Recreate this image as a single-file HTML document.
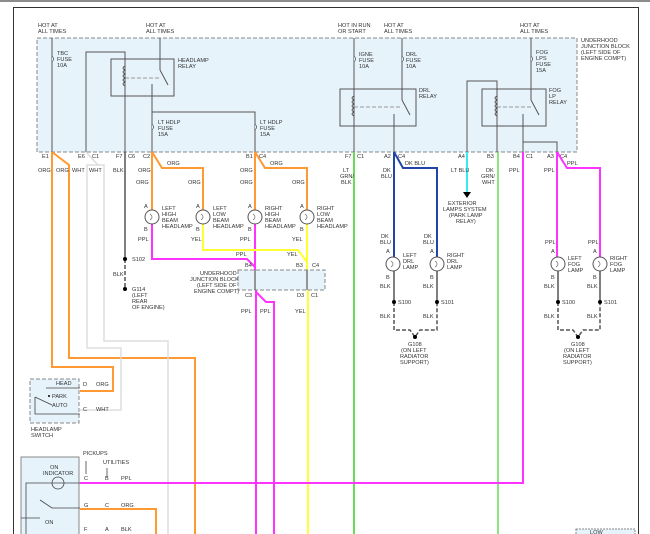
<!DOCTYPE html>
<html><head><meta charset="utf-8"><style>
html,body{margin:0;padding:0;background:#fff;}
svg{display:block;font-family:"Liberation Sans",sans-serif;}
text{font-size:5.6px;fill:#333;}
</style></head><body>
<svg width="650" height="534" viewBox="0 0 650 534" xmlns="http://www.w3.org/2000/svg">
<rect x="0" y="0" width="650" height="534" fill="#fff"/>
<line x1="0" y1="1" x2="650" y2="1" stroke="#666" stroke-width="1.5"/>
<path d="M13.5 534 V7.5 H638.5 V534" fill="none" stroke="#333" stroke-width="1"/>
<rect x="37" y="38" width="540" height="114" fill="#e6f3fb" stroke="#888" stroke-dasharray="4,2" stroke-width="1"/>
<g stroke="#555" fill="none" stroke-width="1">
<line x1="52" y1="38" x2="52" y2="152"/>
<path d="M86 152 V52 H125 V152"/>
<rect x="111" y="59" width="63" height="37" fill="none"/>
<line x1="160" y1="38" x2="160" y2="70"/>
<line x1="160" y1="70" x2="168" y2="85"/>
<line x1="152" y1="84" x2="152" y2="152"/>
<path d="M152 112 H255 V152"/>
<line x1="125" y1="78" x2="160" y2="78" stroke-dasharray="4,2" stroke="#999"/>
<line x1="354" y1="38" x2="354" y2="152"/>
<rect x="340" y="89" width="76" height="37"/>
<line x1="402" y1="38" x2="402" y2="100"/>
<line x1="402" y1="100" x2="410" y2="115"/>
<line x1="394" y1="114" x2="394" y2="152"/>
<line x1="354" y1="107" x2="402" y2="107" stroke-dasharray="4,2" stroke="#999"/>
<path d="M467 152 V81 H497 V152"/>
<rect x="482" y="89" width="64" height="37"/>
<line x1="531" y1="38" x2="531" y2="100"/>
<line x1="531" y1="100" x2="539" y2="115"/>
<path d="M523 114 V152 M523 142 H557 V152"/>
<line x1="497" y1="107" x2="531" y2="107" stroke-dasharray="4,2" stroke="#999"/>
</g>
<g stroke="#444" fill="none" stroke-width="0.8">
<path d="M125 66 q-4 2 0 4 q-4 2 0 4 q-4 2 0 4 q-4 2 0 4 q-4 2 0 4"/>
<path d="M354 96 q-4 2 0 4 q-4 2 0 4 q-4 2 0 4 q-4 2 0 4 q-4 2 0 4"/>
<path d="M497 96 q-4 2 0 4 q-4 2 0 4 q-4 2 0 4 q-4 2 0 4 q-4 2 0 4"/>
</g>
<g fill="#e6f3fb" stroke="#555" stroke-width="0.8">
<path d="M52 56 q3 3 0 6"/><path d="M152 124 q3 3 0 6"/><path d="M255 124 q3 3 0 6"/>
<path d="M354 56 q3 3 0 6"/><path d="M402 56 q3 3 0 6"/><path d="M531 56 q3 3 0 6"/>
</g>
<text x="38" y="27">HOT AT</text><text x="38" y="33">ALL TIMES</text>
<text x="146" y="27">HOT AT</text><text x="146" y="33">ALL TIMES</text>
<text x="338" y="27">HOT IN RUN</text><text x="338" y="33">OR START</text>
<text x="384" y="27">HOT AT</text><text x="384" y="33">ALL TIMES</text>
<text x="520" y="27">HOT AT</text><text x="520" y="33">ALL TIMES</text>
<text x="57" y="55">TBC</text><text x="57" y="61">FUSE</text><text x="57" y="67">10A</text>
<text x="178" y="62">HEADLAMP</text><text x="178" y="68">RELAY</text>
<text x="158" y="124">LT HDLP</text><text x="158" y="130">FUSE</text><text x="158" y="136">15A</text>
<text x="260" y="124">LT HDLP</text><text x="260" y="130">FUSE</text><text x="260" y="136">15A</text>
<text x="359" y="56">IGNE</text><text x="359" y="62">FUSE</text><text x="359" y="68">10A</text>
<text x="406" y="56">DRL</text><text x="406" y="62">FUSE</text><text x="406" y="68">10A</text>
<text x="419" y="92">DRL</text><text x="419" y="98">RELAY</text>
<text x="536" y="54">FOG</text><text x="536" y="60">LPS</text><text x="536" y="66">FUSE</text><text x="536" y="72">15A</text>
<text x="549" y="92">FOG</text><text x="549" y="98">LP</text><text x="549" y="104">RELAY</text>
<text x="581" y="42">UNDERHOOD</text><text x="581" y="48">JUNCTION BLOCK</text><text x="581" y="54">(LEFT SIDE OF</text><text x="581" y="60">ENGINE COMPT)</text>
<text x="42" y="158">E1</text><text x="78" y="158">E6</text><text x="92" y="158">C1</text>
<text x="116" y="158">F7</text><text x="128" y="158">C6</text><text x="143" y="158">C2</text>
<text x="246" y="158">B1</text><text x="259" y="158">C4</text>
<text x="345" y="158">F7</text><text x="357" y="158">C1</text><text x="384" y="158">A2</text><text x="398" y="158">C4</text>
<text x="458" y="158">A4</text><text x="487" y="158">B3</text><text x="513" y="158">B4</text><text x="526" y="158">C1</text>
<text x="547" y="158">A3</text><text x="560" y="158">C4</text>
<g fill="none" stroke-width="2">
<path d="M52 152 V367 H113 V391 H80" stroke="#ff9933"/>
<path d="M52 152 L69 165 V358 H195 V534" stroke="#ff9933"/>
<path d="M86 152 L98 165 H87 V348 H121 V410 H80" stroke="#ddd" stroke-width="1.5"/>
<path d="M98 165 H104 V341 H168 V534" stroke="#ddd" stroke-width="1.5"/>
<path d="M152 152 V210 M152 152 L162 168 H203 V210 M255 152 V210 M255 152 L265 168 H307 V210" stroke="#ff9933"/>
<path d="M152 224 V259 H247 L255 267 M255 224 V270" stroke="#ff33ff"/>
<path d="M203 224 V250 H298 L307 262 M307 224 V270" stroke="#ffff33"/>
<path d="M256 290 V534 M256 292 L266 302 H274 V534" stroke="#ff33ff"/>
<path d="M308 290 V534" stroke="#ffff33"/>
<path d="M354 152 V534" stroke="#66dd55"/>
<path d="M394 152 V257 M394 152 L403 168 H437 V257" stroke="#2244aa"/>
<path d="M467 152 V192" stroke="#33eeee"/>
<path d="M498 152 V534" stroke="#66dd55" stroke-width="1.5"/>
<path d="M523 152 V483 H80" stroke="#ff33ff"/>
<path d="M557 152 V257 M557 152 L567 168 H600 V257" stroke="#ff33ff"/>
<path d="M80 509 H156 V534" stroke="#ff9933"/>
</g>
<polygon points="463,192 471,192 467,198" fill="#000"/>
<g stroke="#555" stroke-width="1.5" fill="none">
<line x1="125" y1="152" x2="125" y2="259"/>
<line x1="125" y1="259" x2="125" y2="289" stroke-dasharray="4,2"/>
<path d="M394 271 V302 M437 271 V302 M558 271 V302 M600 271 V302"/>
<path d="M394 302 V330 H410 L415 337 L420 330 H437 V302 M558 302 V330 H573 L578 337 L583 330 H600 V302" stroke-dasharray="4,2"/>
</g>
<g fill="#000"><circle cx="125" cy="259" r="2"/><circle cx="125" cy="289" r="2"/>
<circle cx="394" cy="302" r="2"/><circle cx="437" cy="302" r="2"/><circle cx="558" cy="302" r="2"/><circle cx="600" cy="302" r="2"/>
<circle cx="415" cy="337" r="2"/><circle cx="578" cy="337" r="2"/></g>
<g fill="#fff" stroke="#555" stroke-width="1">
<circle cx="152" cy="217" r="7"/><circle cx="203" cy="217" r="7"/><circle cx="255" cy="217" r="7"/><circle cx="307" cy="217" r="7"/>
<circle cx="393" cy="264" r="7"/><circle cx="437" cy="264" r="7"/><circle cx="558" cy="264" r="7"/><circle cx="600" cy="264" r="7"/>
</g>
<g fill="none" stroke="#666" stroke-width="0.7">
<path d="M150 214 q4 3 0 6 M201 214 q4 3 0 6 M253 214 q4 3 0 6 M305 214 q4 3 0 6 M391 261 q4 3 0 6 M435 261 q4 3 0 6 M556 261 q4 3 0 6 M598 261 q4 3 0 6"/>
</g>
<text x="136" y="184">ORG</text><text x="188" y="184">ORG</text><text x="240" y="184">ORG</text><text x="292" y="184">ORG</text>
<text x="144" y="208">A</text><text x="196" y="208">A</text><text x="248" y="208">A</text><text x="300" y="208">A</text>
<text x="144" y="231">B</text><text x="196" y="231">B</text><text x="248" y="231">B</text><text x="300" y="231">B</text>
<text x="162" y="210">LEFT</text><text x="162" y="216">HIGH</text><text x="162" y="222">BEAM</text><text x="162" y="228">HEADLAMP</text>
<text x="213" y="210">LEFT</text><text x="213" y="216">LOW</text><text x="213" y="222">BEAM</text><text x="213" y="228">HEADLAMP</text>
<text x="265" y="210">RIGHT</text><text x="265" y="216">HIGH</text><text x="265" y="222">BEAM</text><text x="265" y="228">HEADLAMP</text>
<text x="317" y="210">RIGHT</text><text x="317" y="216">LOW</text><text x="317" y="222">BEAM</text><text x="317" y="228">HEADLAMP</text>
<text x="138" y="241">PPL</text><text x="191" y="241">YEL</text><text x="240" y="241">PPL</text><text x="292" y="241">YEL</text>
<text x="236" y="256">PPL</text><text x="287" y="256">YEL</text>
<text x="245" y="267">B4</text><text x="296" y="267">B3</text><text x="312" y="267">C4</text>
<rect x="238" y="270" width="87" height="20" fill="#e6f3fb" stroke="#888" stroke-dasharray="4,2"/>
<g stroke="#777" stroke-width="1.5"><line x1="255" y1="270" x2="255" y2="290"/><line x1="307" y1="270" x2="307" y2="290"/></g>
<text x="200" y="275">UNDERHOOD</text><text x="190" y="281">JUNCTION BLOCK</text><text x="197" y="287">(LEFT SIDE OF</text><text x="194" y="293">ENGINE COMPT)</text>
<text x="245" y="297">C3</text><text x="297" y="297">D3</text><text x="311" y="297">C1</text>
<text x="241" y="313">PPL</text><text x="260" y="313">PPL</text><text x="295" y="313">YEL</text>
<text x="132" y="261">S102</text><text x="113" y="276">BLK</text><text x="132" y="291">G114</text><text x="132" y="297">(LEFT</text><text x="132" y="303">REAR</text><text x="132" y="309">OF ENGINE)</text>
<text x="38" y="172">ORG</text><text x="56" y="172">ORG</text><text x="72" y="172">WHT</text><text x="89" y="172">WHT</text>
<text x="113" y="172">BLK</text><text x="138" y="172">ORG</text><text x="167" y="165">ORG</text><text x="240" y="172">ORG</text><text x="270" y="165">ORG</text>
<text x="343" y="172">LT</text><text x="340" y="178">GRN/</text><text x="341" y="184">BLK</text>
<text x="383" y="172">DK</text><text x="381" y="178">BLU</text><text x="405" y="165">DK BLU</text>
<text x="451" y="172">LT BLU</text><text x="486" y="172">DK</text><text x="481" y="178">GRN/</text><text x="482" y="184">WHT</text>
<text x="509" y="172">PPL</text><text x="544" y="172">PPL</text><text x="567" y="165">PPL</text>
<text x="448" y="205">EXTERIOR</text><text x="443" y="211">LAMPS SYSTEM</text><text x="449" y="217">(PARK LAMP</text><text x="456" y="223">RELAY)</text>
<text x="381" y="238">DK</text><text x="380" y="244">BLU</text><text x="424" y="238">DK</text><text x="423" y="244">BLU</text>
<text x="545" y="244">PPL</text><text x="588" y="244">PPL</text>
<text x="386" y="253">A</text><text x="430" y="253">A</text><text x="551" y="253">A</text><text x="593" y="253">A</text>
<text x="386" y="279">B</text><text x="430" y="279">B</text><text x="551" y="279">B</text><text x="593" y="279">B</text>
<text x="403" y="257">LEFT</text><text x="403" y="263">DRL</text><text x="403" y="269">LAMP</text>
<text x="447" y="257">RIGHT</text><text x="447" y="263">DRL</text><text x="447" y="269">LAMP</text>
<text x="568" y="260">LEFT</text><text x="568" y="266">FOG</text><text x="568" y="272">LAMP</text>
<text x="610" y="260">RIGHT</text><text x="610" y="266">FOG</text><text x="610" y="272">LAMP</text>
<text x="380" y="288">BLK</text><text x="423" y="288">BLK</text><text x="544" y="288">BLK</text><text x="587" y="288">BLK</text>
<text x="398" y="304">S100</text><text x="441" y="304">S101</text><text x="562" y="304">S100</text><text x="604" y="304">S101</text>
<text x="380" y="318">BLK</text><text x="423" y="318">BLK</text><text x="544" y="318">BLK</text><text x="587" y="318">BLK</text>
<text x="408" y="346">G108</text><text x="401" y="352">(ON LEFT</text><text x="400" y="358">RADIATOR</text><text x="400" y="364">SUPPORT)</text>
<text x="571" y="346">G108</text><text x="564" y="352">(ON LEFT</text><text x="563" y="358">RADIATOR</text><text x="563" y="364">SUPPORT)</text>
<!-- headlamp switch -->
<rect x="30" y="379" width="49" height="44" fill="#e6f3fb" stroke="#888" stroke-dasharray="4,2"/>
<g stroke="#444" fill="none" stroke-width="0.8"><path d="M46 388 H80"/><path d="M35 397 L52 405"/><path d="M35 397 V414 H80"/></g>
<circle cx="49" cy="396" r="1" fill="#000"/>
<text x="56" y="385">HEAD</text><text x="52" y="398">PARK</text><text x="52" y="407">AUTO</text>
<text x="83" y="386">D</text><text x="96" y="386">ORG</text><text x="83" y="411">C</text><text x="96" y="411">WHT</text>
<text x="31" y="431">HEADLAMP</text><text x="31" y="437">SWITCH</text>
<!-- bottom switch -->
<rect x="21" y="457" width="58" height="80" fill="#e6f3fb" stroke="#888"/>
<circle cx="58" cy="483" r="6" fill="none" stroke="#444" stroke-width="0.8"/>
<g stroke="#444" fill="none" stroke-width="0.8"><path d="M26 537 V483 H80"/><path d="M40 500 L52 508 H80"/><path d="M21 518 H40"/><path d="M86 461 V474 M107 468 V477"/></g>
<text x="50" y="469">ON</text><text x="43" y="475">INDICATOR</text><text x="45" y="524">ON</text>
<text x="83" y="455">PICKUPS</text><text x="103" y="464">UTILITIES</text>
<text x="84" y="480">C</text><text x="105" y="480">B</text><text x="121" y="480">PPL</text>
<text x="84" y="507">G</text><text x="105" y="507">C</text><text x="121" y="507">ORG</text>
<text x="84" y="531">F</text><text x="105" y="531">A</text><text x="121" y="531">BLK</text>
<rect x="576" y="529" width="59" height="8" fill="#e6f3fb" stroke="#888" stroke-dasharray="2,1"/>
<text x="590" y="534">LOW</text>
</svg>
</body></html>
